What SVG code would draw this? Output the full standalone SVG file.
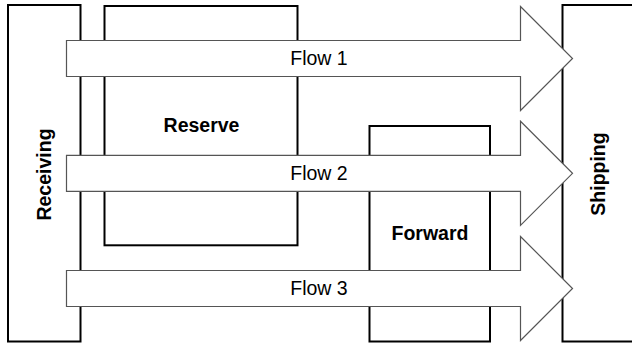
<svg xmlns="http://www.w3.org/2000/svg" width="632" height="345" viewBox="0 0 632 345">
  <style>
    .box { fill: #fff; stroke: #000; stroke-width: 2; }
    .flow { fill: #fff; stroke: #555; stroke-width: 1.2; stroke-linejoin: miter; }
    .lbl { font-family: "Liberation Sans", Arial, sans-serif; font-size: 19.5px; fill: #000; }
    .bold { font-weight: bold; }
  </style>
  <defs>
    <!-- flow arrow centred on y=0, from x=66.5 to tip at x=572.5 -->
    <path id="flowShape" d="M66.5,-18 H520.5 V-52 L572.5,0 L520.5,52 V18 H66.5 Z"/>
  </defs>

  <g id="receiving">
    <rect class="box" x="8" y="5" width="72.5" height="336.5"/>
    <text class="lbl bold" text-anchor="middle" transform="translate(51,174.5) rotate(-90)">Receiving</text>
  </g>

  <g id="reserve">
    <rect class="box" x="104.5" y="6" width="193" height="239.3"/>
    <text class="lbl bold" x="201.5" y="131.5" text-anchor="middle">Reserve</text>
  </g>

  <g id="forward">
    <rect class="box" x="369.5" y="126" width="120.5" height="215.5"/>
    <text class="lbl bold" x="430" y="240" text-anchor="middle">Forward</text>
  </g>

  <g id="shipping">
    <rect class="box" x="562.5" y="5" width="80" height="336.5"/>
    <text class="lbl bold" text-anchor="middle" transform="translate(604.5,174) rotate(-90)">Shipping</text>
  </g>

  <g id="connectors">
    <g id="flow1">
      <use href="#flowShape" class="flow" transform="translate(0,58.5)"/>
      <text class="lbl" x="319" y="64.5" text-anchor="middle">Flow 1</text>
    </g>
    <g id="flow2">
      <use href="#flowShape" class="flow" transform="translate(0,173.3)"/>
      <text class="lbl" x="319" y="179.5" text-anchor="middle">Flow 2</text>
    </g>
    <g id="flow3">
      <use href="#flowShape" class="flow" transform="translate(0,288.5)"/>
      <text class="lbl" x="319" y="294.5" text-anchor="middle">Flow 3</text>
    </g>
  </g>
</svg>
